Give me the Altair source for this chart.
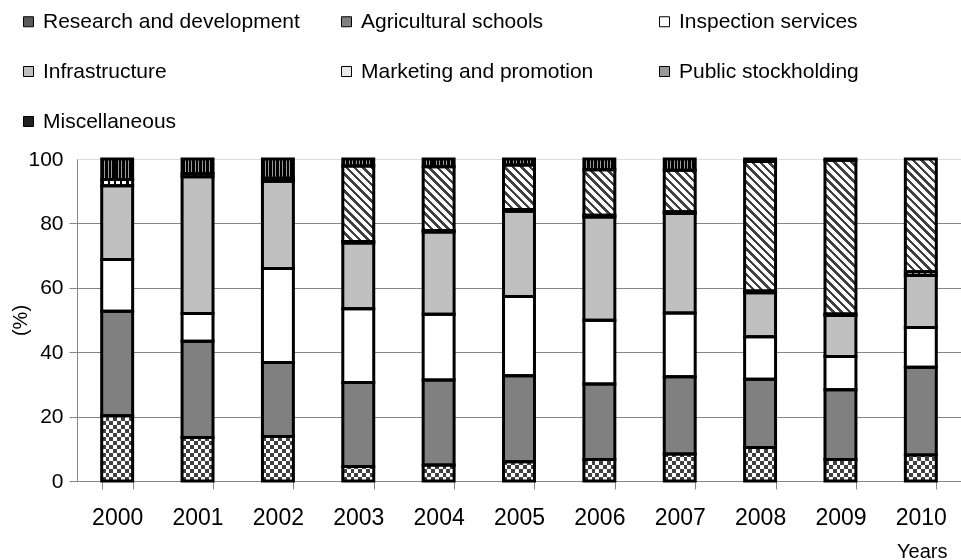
import altair as alt
import pandas as pd

years = ["2000", "2001", "2002", "2003", "2004", "2005", "2006", "2007", "2008", "2009", "2010"]
categories = ["Research and development", "Agricultural schools", "Inspection services",
              "Infrastructure", "Marketing and promotion", "Public stockholding", "Miscellaneous"]

research = [20.3, 13.5, 13.8, 4.5, 5.0, 6.0, 6.7, 8.4, 10.4, 6.7, 8.1]
schools = [32.4, 29.9, 23.0, 26.1, 26.4, 26.7, 23.4, 24.0, 21.2, 21.6, 27.2]
inspection = [16.1, 8.6, 29.2, 22.9, 20.4, 24.6, 19.8, 19.8, 13.2, 10.4, 12.4]
infrastructure = [22.9, 42.5, 27.1, 20.4, 25.5, 26.5, 32.1, 30.9, 13.7, 12.7, 16.1]
marketing = [1.9, 1.0, 0.9, 0.5, 0.5, 0.5, 0.5, 0.5, 0.5, 0.5, 1.2]
stockholding = [0.0, 0.0, 0.0, 23.4, 19.8, 13.8, 14.2, 12.9, 40.2, 47.7, 35.0]
misc = [6.4, 4.5, 6.0, 2.2, 2.4, 1.9, 3.3, 3.5, 0.8, 0.4, 0.0]

series = dict(zip(categories, [research, schools, inspection, infrastructure,
                               marketing, stockholding, misc]))

rows = []
for i, yr in enumerate(years):
    cum = 0.0
    for cat in categories:
        v = series[cat][i]
        rows.append({"year": yr, "cat": cat, "value": v, "y0": cum, "y1": cum + v})
        cum += v
seg = pd.DataFrame(rows)
seg = seg[seg["value"] > 0].reset_index(drop=True)

totals = seg.groupby("year", as_index=False).agg(y0=("y0", "min"), y1=("y1", "max"))
span = dict(zip(totals["year"], totals["y1"] - totals["y0"]))

ps = seg[seg["cat"] == "Public stockholding"].copy()
ps["y1"] = ps["y0"] + ps["year"].map(span)

# layout
W, H = 884, 322
PAD_IN = 0.615
step = W / len(years)
BW = step * (1 - PAD_IN)
FONT = "Liberation Sans"
AXC = "#868686"


def stripes(n, c_on, c_off, x1, y1, x2, y2, duty=0.5):
    stops = []
    for k in range(n):
        a = k / n
        b = (k + duty) / n
        c = (k + 1) / n
        stops += [{"offset": a, "color": c_on}, {"offset": b, "color": c_on},
                  {"offset": b, "color": c_off}, {"offset": c, "color": c_off}]
    return {"gradient": "linear", "x1": x1, "y1": y1, "x2": x2, "y2": y2, "stops": stops}


grad_rows = stripes(round(H / 8), "#000000", "#ffffff", 0, 0, 0, 1)
grad_cols = stripes(4, "#ffffff", "#000000", 0, 0, 1, 0)
s = (BW + H) / (BW ** 2 + H ** 2)
grad_diag = stripes(round((BW + H) / 8.5), "#404040", "#ffffff", 0, 1, s * BW, 1 - s * H, duty=0.42)
grad_mkt = stripes(5, "#000000", "#ffffff", 0, 0, 1, 0, duty=0.35)
grad_misc = stripes(9, "#000000", "#9a9a9a", 0, 0, 1, 0, duty=0.72)

xscale = alt.Scale(paddingInner=PAD_IN, paddingOuter=PAD_IN / 2)
yscale = alt.Scale(domain=[0, 100], nice=False)

xaxis = alt.Axis(
    tickBand="extent", tickSize=8, tickColor=AXC, domainColor=AXC, grid=False,
    labelFontSize=23, labelFont=FONT, labelColor="black", labelPadding=17, labelAngle=0,
    title="Years", titleFont=FONT, titleFontSize=20, titleFontWeight="normal", titleColor="black",
    titleX=870, titleY=76, titleAlign="right", titleBaseline="alphabetic",
)
yaxis = alt.Axis(
    values=[0, 20, 40, 60, 80, 100], grid=True, gridColor=AXC, gridWidth=1,
    gridOpacity={"condition": {"test": "datum.value === 100", "value": 0}, "value": 1},
    tickOpacity={"condition": {"test": "datum.value === 100", "value": 0}, "value": 1},
    tickSize=8, tickColor=AXC, domainColor=AXC,
    labelFontSize=21, labelFont=FONT, labelColor="black", labelPadding=6,
    title="(%)", titleFont=FONT, titleFontSize=20, titleFontWeight="normal", titleColor="black",
    titleX=-57, titleY=H / 2, titleAngle=270, titleAlign="center", titleBaseline="middle",
)

X = alt.X("year:N", scale=xscale, axis=xaxis)
Y = alt.Y("y0:Q", scale=yscale, axis=yaxis)
Y2 = alt.Y2("y1:Q")

# checkerboard underlay (visible in the research segments)
check_a = alt.Chart(totals).mark_bar(fill=grad_rows).encode(x=X, y=Y, y2=Y2)
check_b = alt.Chart(totals).mark_bar(fill=grad_cols, blend="difference").encode(x=X, y=Y, y2=Y2)
check_c = alt.Chart(totals).mark_bar(fill="#ffffff", fillOpacity=0.25).encode(x=X, y=Y, y2=Y2)

# diagonal hatching for public stockholding
hatch = alt.Chart(ps).mark_bar(fill=grad_diag, clip=True).encode(x=X, y=Y, y2=Y2)

legend_colors = ["#5a5a5a", "#808080", "#ffffff", "#c0c0c0", "#e8e8e8", "#9a9a9a", "#202020"]
solid = alt.Chart(seg).transform_filter(
    alt.FieldOneOfPredicate(field="cat", oneOf=["Agricultural schools", "Inspection services", "Infrastructure"])
).mark_bar().encode(
    x=X, y=Y, y2=Y2,
    color=alt.Color(
        "cat:N",
        scale=alt.Scale(domain=categories, range=legend_colors),
        legend=alt.Legend(
            orient="none", legendX=-59, legendY=-148, columns=3, direction="horizontal",
            gridAlign="all", columnPadding=36, rowPadding=28, padding=0,
            symbolType="square", symbolSize=100, symbolStrokeColor="black", symbolStrokeWidth=1,
            symbolOpacity=1,
            labelFont=FONT, labelFontSize=21, labelColor="black", labelOffset=4, labelLimit=500,
            title=None,
        ),
    ),
)

mkt = alt.Chart(seg).transform_filter(alt.datum.cat == "Marketing and promotion").mark_bar(
    fill=grad_mkt).encode(x=X, y=Y, y2=Y2)
misc_layer = alt.Chart(seg).transform_filter(alt.datum.cat == "Miscellaneous").mark_bar(
    fill=grad_misc).encode(x=X, y=Y, y2=Y2)

outline = alt.Chart(seg).mark_bar(fill="transparent", stroke="black", strokeWidth=3).encode(
    x=X, y=Y, y2=Y2)

chart = alt.layer(check_a, check_b, check_c, hatch, solid, mkt, misc_layer, outline).properties(
    width=W, height=H,
    autosize=alt.AutoSizeParams(type="none"),
    padding={"left": 77, "top": 159, "right": 0, "bottom": 79},
    background="white",
).configure_view(stroke=None).configure(font=FONT)

chart.save("out.html", embed_options={"renderer": "svg", "actions": False})
